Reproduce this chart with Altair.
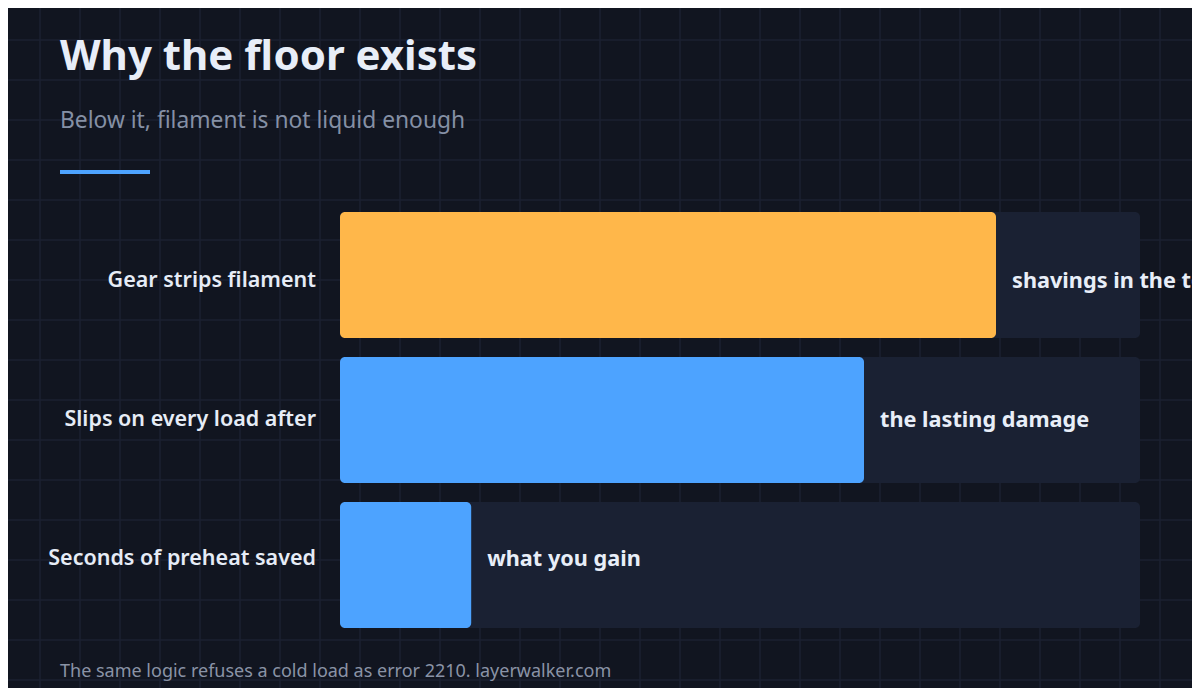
import altair as alt
import pandas as pd

# ---- data ----
categories = ["Gear strips filament", "Slips on every load after", "Seconds of preheat saved"]
values = [82, 65.5, 16.4]
notes = ["shavings in the teeth", "the lasting damage", "what you gain"]
bar_colors = ["#ffb74a", "#4da3ff", "#4da3ff"]
track_max = [100, 100, 100]

title_text = "Why the floor exists"
subtitle_text = "Below it, filament is not liquid enough"
footer_text = "The same logic refuses a cold load as error 2210. layerwalker.com"

W, H = 1184, 680
BG = "#111520"
GRID = "#1b2130"
TRACK = "#1a2133"
FONT = "Noto Sans"

df = pd.DataFrame({"cat": categories, "value": values, "note": notes,
                   "color": bar_colors, "max": track_max})

# background grid (decoration, every 40px of the page)
vx = pd.DataFrame({"px": list(range(32, W, 40))})
hy = pd.DataFrame({"py": list(range(32, H, 40))})

x_scale = alt.Scale(domain=[0, 100], range=[332, 1132])
y_scale = alt.Scale(domain=categories, range=[204, 620], paddingInner=0.131, paddingOuter=0)

vgrid = alt.Chart(vx).mark_rule(color=GRID, strokeWidth=1.5).encode(
    x=alt.X("px:Q", scale=None, axis=None), y=alt.value(0), y2=alt.value(H))
hgrid = alt.Chart(hy).mark_rule(color=GRID, strokeWidth=1.5).encode(
    y=alt.Y("py:Q", scale=None, axis=None), x=alt.value(0), x2=alt.value(W))

base = alt.Chart(df)
Y = alt.Y("cat:N", sort=categories, scale=y_scale, axis=None)

track = base.mark_bar(color=TRACK, cornerRadius=5).encode(
    x=alt.X("max:Q", scale=x_scale, axis=None), x2=alt.datum(0), y=Y)
bars = base.mark_bar(cornerRadius=5).encode(
    x=alt.X("value:Q", scale=x_scale, axis=None), x2=alt.datum(0), y=Y,
    color=alt.Color("color:N", scale=None, legend=None))

labels = base.mark_text(align="right", baseline="middle", dx=-24, fontSize=21.5,
                        fontWeight=600, color="#e6ecf6", font=FONT).encode(
    x=alt.X(datum=0, scale=x_scale, axis=None), y=Y, text="cat:N")
notes_layer = base.mark_text(align="left", baseline="middle", dx=16, fontSize=21.7,
                             fontWeight="bold", color="#e8eef8", font=FONT).encode(
    x=alt.X("value:Q", scale=x_scale, axis=None), y=Y, text="note:N")

title = alt.Chart(pd.DataFrame({"t": [title_text]})).mark_text(
    align="left", baseline="alphabetic", fontSize=42, fontWeight="bold",
    color="#e8eef8", font=FONT).encode(x=alt.value(52), y=alt.value(62), text="t:N")
subtitle = alt.Chart(pd.DataFrame({"t": [subtitle_text]})).mark_text(
    align="left", baseline="alphabetic", fontSize=22.8, color="#8590a5",
    font=FONT).encode(x=alt.value(52), y=alt.value(120), text="t:N")
accent = alt.Chart(pd.DataFrame({"a": [0]})).mark_rule(color="#4da3ff", strokeWidth=4).encode(
    x=alt.value(52), x2=alt.value(142), y=alt.value(164))
footer = alt.Chart(pd.DataFrame({"t": [footer_text]})).mark_text(
    align="left", baseline="alphabetic", fontSize=18, color="#8a93a6",
    font=FONT).encode(x=alt.value(52), y=alt.value(669), text="t:N")

chart = alt.layer(vgrid, hgrid, track, bars, labels, notes_layer,
                  title, subtitle, accent, footer).resolve_scale(
    x="independent", y="independent"
).properties(
    width=W, height=H, background=BG, padding=0,
    autosize=alt.AutoSizeParams(type="none")
).configure_view(stroke=None)

chart.save("out.html", embed_options={"renderer": "svg", "actions": False})
